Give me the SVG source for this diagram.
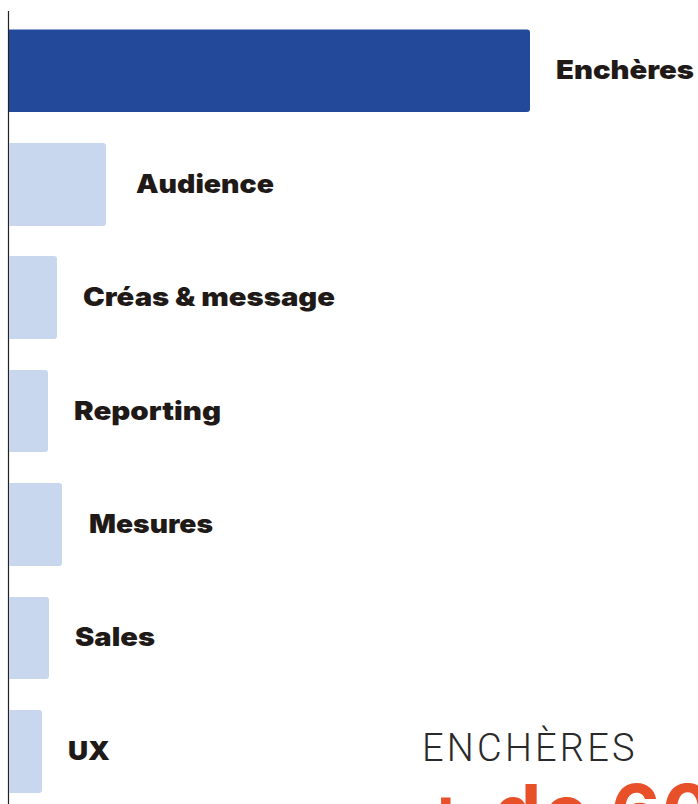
<svg xmlns="http://www.w3.org/2000/svg" width="698" height="804" viewBox="0 0 698 804">
<style>
.bar{fill:#c8d6ee}
.top{fill:#234a9a}
.lbl{font-family:Inter,"Liberation Sans",sans-serif;font-weight:900;font-size:26px;fill:#1f1a17}
.cat{font-family:Roboto,"Liberation Sans",sans-serif;font-weight:300;font-size:38px;fill:#2a2a2a;letter-spacing:3.2px}
.big{font-family:Inter,"Liberation Sans",sans-serif;font-weight:700;font-size:76px;fill:#e8502a;letter-spacing:2px}
</style>
<rect width="698" height="804" fill="#ffffff"/>
<g id="axis"><line x1="8.5" y1="11" x2="8.5" y2="804" stroke="#222" stroke-width="1.2"/></g>
<g id="bar-encheres"><path class="top" d="M9 29.5H527a3 3 0 0 1 3 3V109a3 3 0 0 1-3 3H9Z"/><text class="lbl" x="556" y="79" textLength="138" lengthAdjust="spacingAndGlyphs">Enchères</text></g>
<g id="bar-audience"><path class="bar" d="M9 143H103a3 3 0 0 1 3 3V223a3 3 0 0 1-3 3H9Z"/><text class="lbl" x="136" y="193" textLength="138" lengthAdjust="spacingAndGlyphs">Audience</text></g>
<g id="bar-creas"><path class="bar" d="M9 256H54a3 3 0 0 1 3 3V336a3 3 0 0 1-3 3H9Z"/><text class="lbl" x="83" y="306" textLength="252" lengthAdjust="spacingAndGlyphs">Créas &amp; message</text></g>
<g id="bar-reporting"><path class="bar" d="M9 370H45a3 3 0 0 1 3 3V449a3 3 0 0 1-3 3H9Z"/><text class="lbl" x="74" y="420" textLength="147" lengthAdjust="spacingAndGlyphs">Reporting</text></g>
<g id="bar-mesures"><path class="bar" d="M9 483H59a3 3 0 0 1 3 3V563a3 3 0 0 1-3 3H9Z"/><text class="lbl" x="89" y="533" textLength="124" lengthAdjust="spacingAndGlyphs">Mesures</text></g>
<g id="bar-sales"><path class="bar" d="M9 597H46a3 3 0 0 1 3 3V676a3 3 0 0 1-3 3H9Z"/><text class="lbl" x="75" y="646" textLength="80" lengthAdjust="spacingAndGlyphs">Sales</text></g>
<g id="bar-ux"><path class="bar" d="M9 710H39a3 3 0 0 1 3 3V790a3 3 0 0 1-3 3H9Z"/><text class="lbl" x="68" y="760" textLength="42" lengthAdjust="spacingAndGlyphs">UX</text></g>
<g id="connectors"></g>
<g id="caption">
<text class="cat" x="422" y="761">ENCHÈRES</text>
<text class="big" x="420" y="839">+ de 60%</text>
</g>
</svg>
